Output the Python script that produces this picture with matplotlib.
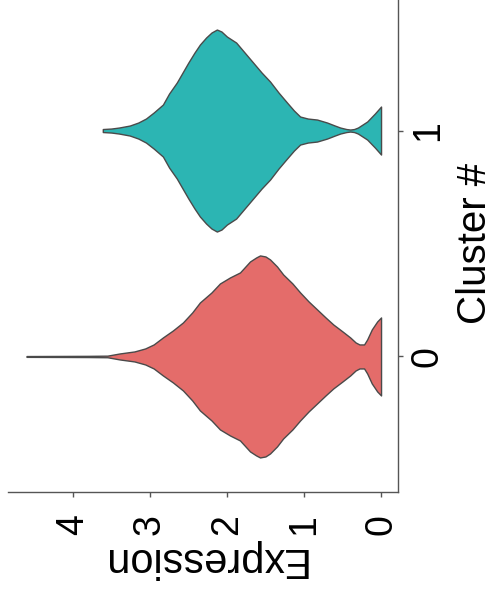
import matplotlib
matplotlib.use("Agg")
import matplotlib.pyplot as plt

plt.rcParams['font.family'] = ['Liberation Sans', 'DejaVu Sans']

# cluster ids and colours
clusters = [0, 1]
cluster_labels = ['0', '1']
colors = ['#E46C6A', '#2CB5B3']

# violin outlines: expression value -> half width (px at 226 px/unit)
expr_0 = [4.60, 4.20, 3.80, 3.55, 3.39, 3.20, 3.06, 2.95, 2.83, 2.70, 2.57, 2.45, 2.35,
          2.20, 2.09, 1.96, 1.83, 1.70, 1.62, 1.57, 1.50, 1.44, 1.35, 1.27, 1.15, 1.05,
          0.94, 0.83, 0.72, 0.62, 0.50, 0.40, 0.33, 0.28, 0.22, 0.18, 0.12, 0.05, 0.0]
hw_0 = [0.4, 0.5, 0.6, 0.8, 3, 5, 8, 12, 19, 26, 34, 44, 54,
        64, 73, 79, 84, 95, 99, 101, 100, 97, 90, 82, 73, 64,
        55, 47, 39, 32, 25, 19, 14, 12, 12, 17, 27, 35, 39]

expr_1 = [3.61, 3.50, 3.40, 3.26, 3.15, 3.05, 2.95, 2.83, 2.75, 2.65, 2.50, 2.42, 2.35,
          2.27, 2.20, 2.13, 2.07, 2.00, 1.88, 1.77, 1.66, 1.55, 1.44, 1.33, 1.22, 1.13,
          1.05, 0.95, 0.83, 0.70, 0.60, 0.53, 0.45, 0.40, 0.35, 0.30, 0.18, 0.08, 0.0]
hw_1 = [1.5, 2, 3, 5, 8, 12, 18, 26, 37, 48, 68, 78, 86,
        93, 98, 101, 99, 94, 88, 78, 68, 58, 49, 38, 28, 20,
        14, 12, 11, 8, 5, 3, 1.5, 1, 1.5, 3, 9, 17, 24]

x_ticks = [0, 1, 2, 3, 4]

fig = plt.figure(figsize=(4.95, 6.04), dpi=100)
ax = fig.add_axes([8/495, 112/604, 390/495, 497/604])

px_per_unit = 497 / 2.2
for c, ex, hw, col in [(0, expr_0, hw_0, colors[0]), (1, expr_1, hw_1, colors[1])]:
    h = [w / px_per_unit for w in hw]
    lo = [c - w for w in h]
    hi = [c + w for w in h]
    ax.fill_between(ex, lo, hi, facecolor=col, edgecolor='#4a4a4a', linewidth=1.0,
                    joinstyle='round')

ax.set_xlim(4.84, -0.22)
ax.set_ylim(-0.6, 1.6)

for s in ['top', 'left']:
    ax.spines[s].set_visible(False)
for s in ['bottom', 'right']:
    ax.spines[s].set_color('#555555')
    ax.spines[s].set_linewidth(1.0)

ax.yaxis.tick_right()
ax.yaxis.set_label_position('right')
ax.set_xticks(x_ticks)
ax.set_xticklabels([str(t) for t in x_ticks], rotation=90, fontsize=27, va='center')
ax.set_yticks(clusters)
ax.set_yticklabels(cluster_labels, rotation=90, fontsize=27, ha='center', va='center')
ax.tick_params(axis='x', length=3.5, width=1, color='#555555', pad=20)
ax.tick_params(axis='y', length=3.5, width=1, color='#555555', pad=18)

ax.set_xlabel('Expression', fontsize=30, rotation=180, labelpad=3)
ax.set_ylabel('Cluster #', fontsize=29, rotation=90, labelpad=7)

fig.savefig('out.png', dpi=100)
